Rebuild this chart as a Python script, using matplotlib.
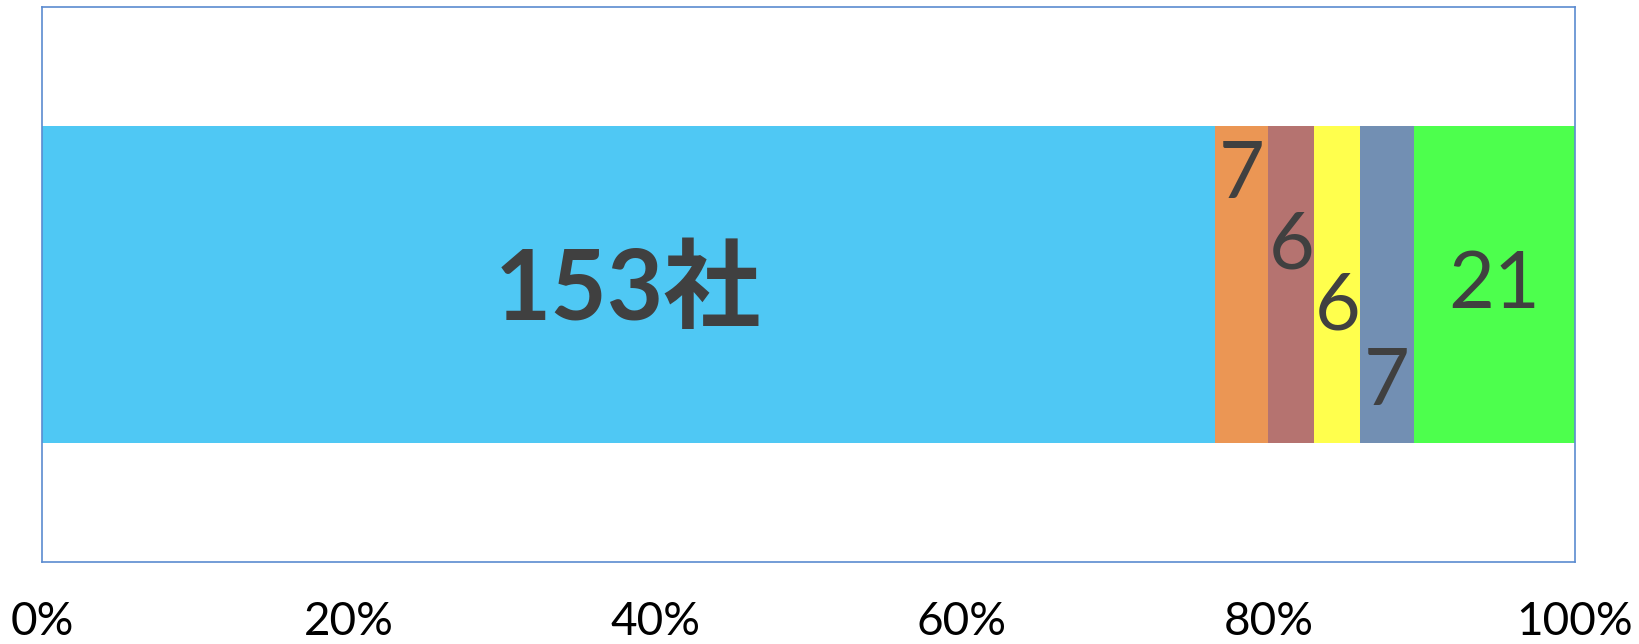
import matplotlib.pyplot as plt
import numpy as np

# Data: number of companies per category (single stacked 100% bar)
counts = [153, 7, 6, 6, 7, 21]
labels = ['153社', '7', '6', '6', '7', '21']
colors = ['#4FC8F4', '#EB9654', '#B57370', '#FFFF4D', '#728FB3', '#4DFF4D']
# vertical offsets of the small labels (as in the original, staggered)
label_y = [-0.01, 0.195, 0.068, -0.041, -0.177, -0.003]

tick_vals = [0, 20, 40, 60, 80, 100]

plt.rcParams['font.family'] = ['Lato', 'Noto Sans CJK JP', 'DejaVu Sans']

fig = plt.figure(figsize=(16.39, 6.44), dpi=100)
ax = fig.add_axes([0.0256, 0.127, 0.9353, 0.862])

shares = np.array(counts) / sum(counts) * 100
left = 0.0
text_col = '#404040'
for i, (w, lab, c) in enumerate(zip(shares, labels, colors)):
    ax.barh(0, w, left=left, height=0.571, color=c, edgecolor='none')
    if i == 0:
        ax.text(left + w / 2, label_y[i], lab, ha='center', va='center',
                fontsize=70, fontweight='bold', color=text_col)
    else:
        ax.text(left + w / 2, label_y[i], lab, ha='center', va='center',
                fontsize=57, color=text_col)
    left += w

ax.set_xlim(0, 100)
ax.set_ylim(-0.5, 0.5)
ax.set_yticks([])
ax.set_xticks(tick_vals)
ax.set_xticklabels([f'{v}%' for v in tick_vals], fontsize=33)
ax.tick_params(axis='x', length=0, pad=28)
for s in ax.spines.values():
    s.set_color('#5B8BD0')
    s.set_linewidth(1.2)

fig.savefig('out.png', dpi=100)
